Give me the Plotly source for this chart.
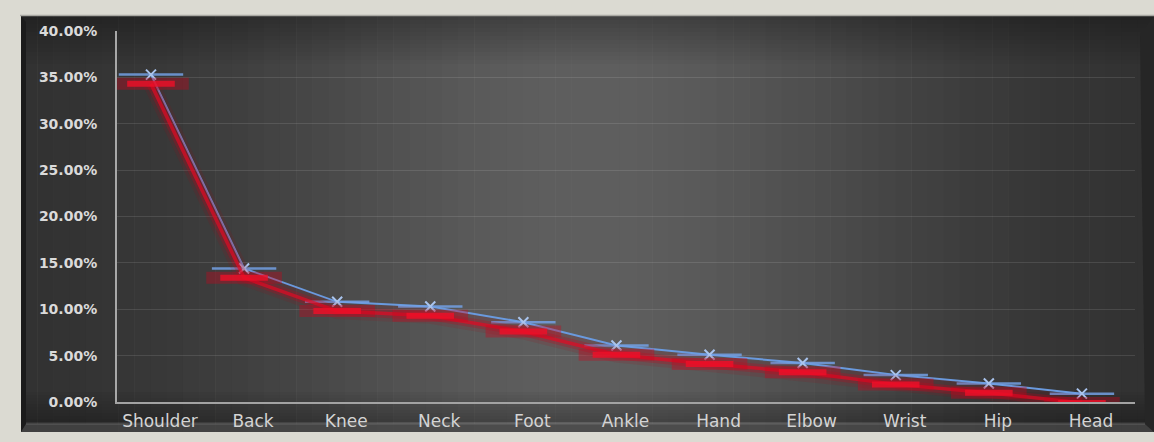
import math
import plotly.graph_objects as go

# Injury share by body region
regions = ["Shoulder", "Back", "Knee", "Neck", "Foot", "Ankle",
           "Hand", "Elbow", "Wrist", "Hip", "Head"]
share = [0.353, 0.144, 0.108, 0.103, 0.086, 0.061,
         0.051, 0.042, 0.029, 0.020, 0.009]
y_ticks = [0.0, 0.05, 0.10, 0.15, 0.20, 0.25, 0.30, 0.35, 0.40]

W, H = 1154, 442
PL, PR, PT, PB = 117, 1135, 31, 402          # plot area in pixels
SHADOW = 0.010                                 # drop-shadow offset in data units


def px(x):
    return (x - PL) / (PR - PL)


def py(y):
    return (PB - y) / (PB - PT)


def grey(v, a=1.0):
    v = int(max(0, min(255, v)))
    return f"rgba({v},{v},{v},{a})"


shapes = []

# dark panel with a soft horizontal light falloff
x_left, x_right, y_top, y_bot = 21, 1154, 16, 432
n = 70
step = (x_right - x_left) / n
for i in range(n):
    xa = x_left + i * step
    xc = xa + step / 2
    lum = 47 + 48 * math.exp(-((xc - 590) / 340) ** 2)
    shapes.append(dict(type="rect", xref="paper", yref="paper",
                       x0=px(xa), x1=px(xa + step + 0.6), y0=py(y_bot), y1=py(y_top),
                       fillcolor=grey(lum), line_width=0, layer="below"))

# darker band along the top and bottom of the panel
for j in range(12):
    ya = y_top + j * 4
    shapes.append(dict(type="rect", xref="paper", yref="paper",
                       x0=px(x_left), x1=px(x_right), y0=py(ya + 4), y1=py(ya),
                       fillcolor=f"rgba(0,0,0,{0.30 * (1 - j / 12):.3f})",
                       line_width=0, layer="below"))
for j in range(10):
    ya = 392 + j * 3
    shapes.append(dict(type="rect", xref="paper", yref="paper",
                       x0=px(x_left), x1=px(x_right), y0=py(ya + 3), y1=py(ya),
                       fillcolor=f"rgba(0,0,0,{0.04 + 0.025 * j:.3f})",
                       line_width=0, layer="below"))

# bevelled frame edges
shapes.append(dict(type="path", xref="paper", yref="paper", layer="below",
                   path=f"M {px(21)},{py(16)} L {px(26)},{py(22)} L {px(26)},{py(424)} "
                        f"L {px(21)},{py(432)} Z",
                   fillcolor="#1b1b1b", line_width=0))
shapes.append(dict(type="path", xref="paper", yref="paper", layer="below",
                   path=f"M {px(26)},{py(424)} L {px(1145)},{py(424)} L {px(1154)},{py(432)} "
                        f"L {px(21)},{py(432)} Z",
                   fillcolor="rgba(70,70,70,0.7)", line_width=0))
shapes.append(dict(type="line", xref="paper", yref="paper", layer="below",
                   x0=px(26), x1=px(1145), y0=py(424), y1=py(424),
                   line=dict(color="rgba(130,130,130,0.5)", width=1)))
shapes.append(dict(type="path", xref="paper", yref="paper", layer="below",
                   path=f"M {px(1140)},{py(34)} L {px(1154)},{py(16)} L {px(1154)},{py(432)} "
                        f"L {px(1145)},{py(424)} Z",
                   fillcolor="#262626", line_width=0))
shapes.append(dict(type="line", xref="paper", yref="paper", layer="below",
                   x0=px(20), x1=px(1154), y0=py(15.5), y1=py(15.5),
                   line=dict(color="#a9a8a2", width=1.5)))

fig = go.Figure()

# red glow shadow, drawn on an offset overlay axis
for width, col in [(16, "rgba(170,0,20,0.12)"), (9, "rgba(200,0,25,0.25)"),
                   (3.5, "rgba(225,10,35,0.7)")]:
    fig.add_trace(go.Scatter(x=regions, y=share, yaxis="y2", mode="lines",
                             line=dict(color=col, width=width), hoverinfo="skip",
                             showlegend=False))
fig.add_trace(go.Scatter(x=regions, y=share, yaxis="y2", mode="markers",
                         marker=dict(symbol="line-ew", size=54,
                                     line=dict(color="rgba(210,0,25,0.35)", width=12)),
                         hoverinfo="skip", showlegend=False))
fig.add_trace(go.Scatter(x=regions, y=share, yaxis="y2", mode="markers",
                         marker=dict(symbol="line-ew", size=34,
                                     line=dict(color="rgba(240,15,40,0.8)", width=6)),
                         hoverinfo="skip", showlegend=False))

# main series
fig.add_trace(go.Scatter(x=regions, y=share, mode="lines+markers",
                         line=dict(color="#6a9ade", width=2),
                         marker=dict(symbol="line-ew", size=46,
                                     line=dict(color="rgba(115,160,228,0.85)", width=2.5)),
                         showlegend=False))
fig.add_trace(go.Scatter(x=regions, y=share, mode="markers",
                         marker=dict(symbol="x-thin", size=10,
                                     line=dict(color="#a9c4ee", width=2)),
                         showlegend=False))

font = "DejaVu Sans, Verdana, sans-serif"
fig.update_layout(
    width=W, height=H,
    margin=dict(l=PL, r=W - PR, t=PT, b=H - PB, pad=0),
    paper_bgcolor="#dbdad2",
    plot_bgcolor="rgba(0,0,0,0)",
    shapes=shapes,
    xaxis=dict(
        type="category", automargin=False,
        range=[-0.365, 10.57],
        showgrid=False, zeroline=False,
        showline=True, linecolor="#a3a3a3", linewidth=2,
        ticks="", ticklabelstandoff=3, ticklabelshift=9,
        tickfont=dict(family=font, size=17, color="#d4d4d4"),
    ),
    yaxis=dict(
        automargin=False,
        range=[0, 0.40],
        tickvals=y_ticks, tickformat=".2%",
        showgrid=True, gridcolor="rgba(255,255,255,0.11)", gridwidth=1,
        zeroline=False,
        showline=True, linecolor="#a8a8a8", linewidth=2,
        ticks="", ticklabelstandoff=15,
        tickfont=dict(family="DejaVu Sans Bold, DejaVu Sans, sans-serif", size=14,
                      color="#dadada", weight="bold"),
    ),
    yaxis2=dict(
        overlaying="y", range=[SHADOW, 0.40 + SHADOW], visible=False,
    ),
)

fig.write_html("out.html")
